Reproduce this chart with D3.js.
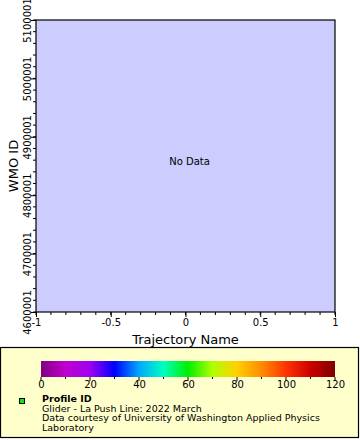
<!DOCTYPE html>
<html><head><meta charset="utf-8">
<script src="https://cdn.jsdelivr.net/npm/d3@7"></script>
<style>body{margin:0;background:#fff;}svg{display:block;font-family:"DejaVu Sans",sans-serif;}</style>
</head><body>
<svg id="c" width="360" height="440"></svg>
<script>
const xDomain = [-1, 1];
const xTicks = [-1, -0.5, 0, 0.5, 1];
const xTickLabels = ["-1", "-0.5", "0", "0.5", "1"];
const yDomain = [4600001, 5100001];
const yTicks = [4600001, 4700001, 4800001, 4900001, 5000001, 5100001];
const cbDomain = [0, 120];
const cbTicks = [0, 20, 40, 60, 80, 100, 120];
const cbStops = [0, 10, 20, 30, 40, 50, 60, 70, 80, 90, 100, 110, 120];
const cbColors = ["#800080","#c000d0","#a000f0","#0000ff","#00a8ff","#00ffc0","#00f000","#b0ff00","#ffd000","#ff8c00","#ff3300","#cc0000","#800000"];
const legendLines = ["Profile ID", "Glider - La Push Line: 2022 March", "Data courtesy of University of Washington Applied Physics", "Laboratory"];

const svg = d3.select("#c");
const L = 36, R = 335, T = 20, B = 312;
const x = d3.scaleLinear().domain(xDomain).range([L, R]);
const y = d3.scaleLinear().domain(yDomain).range([B, T]);

svg.append("rect").attr("x", L).attr("y", T).attr("width", R - L).attr("height", B - T).attr("fill", "#ccccff");

// minor ticks
const xMinor = d3.range(xDomain[0], xDomain[1] + 1e-9, 0.1);
svg.append("g").selectAll("line").data(xMinor).join("line")
  .attr("x1", d => x(d)).attr("x2", d => x(d)).attr("y1", B).attr("y2", B + 3)
  .attr("stroke", "#000");
const yMinor = d3.range(yDomain[0], yDomain[1] + 1, 20000);
svg.append("g").selectAll("line").data(yMinor).join("line")
  .attr("x1", L - 3).attr("x2", L).attr("y1", d => y(d)).attr("y2", d => y(d))
  .attr("stroke", "#000");

const xAxis = d3.axisBottom(x).tickValues(xTicks).tickFormat((d, i) => xTickLabels[i]).tickSize(5).tickSizeOuter(0);
const gx = svg.append("g").attr("transform", `translate(0,${B})`).call(xAxis);
gx.select(".domain").remove();
gx.selectAll("text").attr("font-size", 10).attr("font-family", "DejaVu Sans").attr("y", 7).attr("dy", "0.71em").attr("fill", "#000");

const yAxis = d3.axisLeft(y).tickValues(yTicks).tickFormat(d3.format("d")).tickSize(5).tickSizeOuter(0);
const gy = svg.append("g").attr("transform", `translate(${L},0)`).call(yAxis);
gy.select(".domain").remove();
gy.selectAll("text").attr("font-size", 10).attr("font-family", "DejaVu Sans").attr("fill", "#000")
  .attr("x", 0).attr("dy", 0).attr("text-anchor", "middle")
  .attr("transform", "translate(-5,0) rotate(-90)");

svg.append("rect").attr("x", L).attr("y", T).attr("width", R - L).attr("height", B - T)
  .attr("fill", "none").attr("stroke", "#000").attr("stroke-width", 1.2);

svg.append("text").attr("x", (L + R) / 2).attr("y", 344).attr("text-anchor", "middle")
  .attr("font-size", 13).text("Trajectory Name");
svg.append("text").attr("transform", `translate(18,${(T + B) / 2}) rotate(-90)`).attr("text-anchor", "middle")
  .attr("font-size", 13).text("WMO ID");
svg.append("text").attr("x", x(0) + 4).attr("y", 165).attr("text-anchor", "middle")
  .attr("font-size", 10).text("No Data");

// legend
svg.append("rect").attr("x", 0.5).attr("y", 347.5).attr("width", 358).attr("height", 90)
  .attr("fill", "#ffffcc").attr("stroke", "#000").attr("stroke-width", 1.2);

const cb = d3.scaleLinear().domain(cbDomain).range([41, 335]);
const defs = svg.append("defs");
const grad = defs.append("linearGradient").attr("id", "cbg");
grad.selectAll("stop").data(cbStops).join("stop")
  .attr("offset", d => (d - cbDomain[0]) / (cbDomain[1] - cbDomain[0]))
  .attr("stop-color", (d, i) => cbColors[i]);
svg.append("rect").attr("x", cb(0)).attr("y", 361).attr("width", cb(120) - cb(0)).attr("height", 16)
  .attr("fill", "url(#cbg)");
const cbMinor = d3.range(0, 121, 10);
svg.append("g").selectAll("line").data(cbMinor).join("line")
  .attr("x1", d => cb(d)).attr("x2", d => cb(d)).attr("y1", 377).attr("y2", d => d % 20 === 0 ? 381 : 379)
  .attr("stroke", "#000");
const cbAxis = d3.axisBottom(cb).tickValues(cbTicks).tickSize(0).tickSizeOuter(0);
const gc = svg.append("g").attr("transform", "translate(0,377)").call(cbAxis);
gc.select(".domain").remove();
gc.selectAll("text").attr("font-size", 10).attr("font-family", "DejaVu Sans").attr("fill", "#000").attr("y", 4).attr("dy", "0.71em");

svg.append("rect").attr("x", 19.5).attr("y", 398.5).attr("width", 5).attr("height", 5)
  .attr("fill", "#00ee00").attr("stroke", "#000");
legendLines.forEach((t, i) => {
  svg.append("text").attr("x", 42).attr("y", 402 + i * 9.5).attr("font-size", 9.5)
    .attr("font-weight", i === 0 ? "bold" : "normal").text(t);
});
</script>
</body></html>
